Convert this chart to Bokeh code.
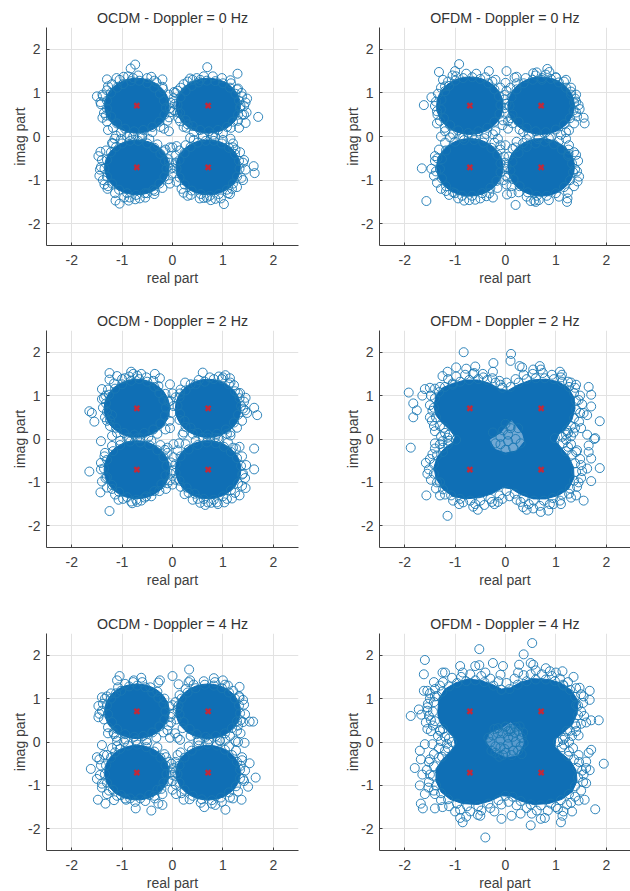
from bokeh.plotting import figure
from bokeh.layouts import column, row
from bokeh.embed import file_html
from bokeh.resources import INLINE
from bokeh.models import FixedTicker

TICKS = [-2, -1, 0, 1, 2]
TICK_LABELS = {-2: "-2", -1: "-1", 0: "0", 1: "1", 2: "2"}
CONST_X = [-0.707, 0.707, -0.707, 0.707]
CONST_Y = [0.707, 0.707, -0.707, -0.707]
TITLES = ["OCDM - Doppler = 0 Hz", "OFDM - Doppler = 0 Hz", "OCDM - Doppler = 2 Hz",
          "OFDM - Doppler = 2 Hz", "OCDM - Doppler = 4 Hz", "OFDM - Doppler = 4 Hz"]
# The middle of each cluster is solid ink: single symbols cannot be read there,
# so it is kept as the half-extent of the solid area, read per panel.
CORE_HALF = [(0.64, 0.63), (0.66, 0.66), (0.65, 0.67), None, (0.64, 0.63), None]
# In the two OFDM panels with Doppler the clusters merge: outline of the solid mass,
# and of the speckled middle.
MASS_P4 = [(-1.42,0.75),(-1.38,1.0),(-1.25,1.18),(-1.05,1.28),(-0.8,1.36),(-0.55,1.36),(-0.3,1.28),(-0.12,1.15),(0.05,1.12),(0.25,1.25),(0.5,1.36),(0.8,1.38),(1.05,1.32),(1.25,1.18),(1.36,0.95),(1.38,0.7),(1.32,0.45),(1.2,0.25),(1.05,0.1),(1.0,-0.05),(1.1,-0.2),(1.25,-0.4),(1.35,-0.65),(1.36,-0.9),(1.25,-1.15),(1.05,-1.3),(0.8,-1.38),(0.55,-1.38),(0.3,-1.28),(0.12,-1.15),(-0.05,-1.12),(-0.25,-1.25),(-0.5,-1.35),(-0.8,-1.38),(-1.05,-1.32),(-1.25,-1.15),(-1.38,-0.9),(-1.42,-0.65),(-1.35,-0.4),(-1.2,-0.2),(-1.05,-0.08),(-1.0,0.05),(-1.1,0.2),(-1.28,0.4),(-1.38,0.55)]
MASS_P6 = [(-1.34,0.75),(-1.32,1.0),(-1.2,1.22),(-1.0,1.36),(-0.75,1.45),(-0.5,1.42),(-0.25,1.32),(-0.08,1.22),(0.1,1.25),(0.3,1.38),(0.55,1.46),(0.85,1.44),(1.1,1.36),(1.3,1.2),(1.44,0.95),(1.42,0.65),(1.32,0.4),(1.15,0.22),(1.0,0.08),(0.98,-0.1),(1.1,-0.25),(1.28,-0.42),(1.4,-0.65),(1.42,-0.9),(1.32,-1.15),(1.12,-1.32),(0.85,-1.42),(0.55,-1.44),(0.3,-1.36),(0.1,-1.25),(-0.08,-1.24),(-0.3,-1.36),(-0.55,-1.44),(-0.85,-1.42),(-1.1,-1.32),(-1.28,-1.15),(-1.38,-0.9),(-1.38,-0.62),(-1.25,-0.4),(-1.1,-0.22),(-1.0,-0.08),(-1.02,0.1),(-1.15,0.25),(-1.28,0.42),(-1.34,0.6)]
HOLE_P4 = [(0.12,0.42),(0.32,0.12),(0.36,-0.05),(0.22,-0.25),(0.0,-0.3),(-0.2,-0.22),(-0.3,-0.02),(-0.1,0.12)]
HOLE_P6 = [(0.1,0.44),(0.3,0.24),(0.36,-0.02),(0.24,-0.3),(0.0,-0.34),(-0.24,-0.2),(-0.38,0.02),(-0.3,0.2),(-0.08,0.3)]
MASSES = [None, None, None, MASS_P4, None, MASS_P6]
HOLES = [None, None, None, (HOLE_P4, "#72a9d4"), None, (HOLE_P6, "#5a9bcd")]

# Symbols (real, imag): rim of the solid area and stray points.
P1 = [(-0.98,1.2),(-0.82,1.27),(-0.66,1.28),(-0.5,1.22),(-0.36,1.12),(-0.25,0.98),(-0.17,0.82),(-0.13,0.66),(-0.16,0.5),(-0.26,0.34),(-0.4,0.22),(-0.58,0.15),(-0.76,0.12),(-0.94,0.18),(-1.1,0.3),(-1.22,0.46),(-1.3,0.64),(-1.3,0.82),(-1.22,1.0),(-1.1,1.12),
(0.52,1.24),(0.68,1.28),(0.85,1.27),(1.0,1.22),(1.14,1.12),(1.25,0.98),(1.32,0.82),(1.34,0.66),(1.3,0.5),(1.2,0.34),(1.08,0.22),(0.9,0.15),(0.72,0.12),(0.55,0.15),(0.4,0.24),(0.26,0.38),(0.15,0.54),(0.1,0.72),(0.16,0.9),(0.26,1.04),(0.38,1.16),
(-1.0,-0.16),(-0.84,-0.1),(-0.68,-0.1),(-0.5,-0.16),(-0.36,-0.26),(-0.24,-0.4),(-0.15,-0.56),(-0.12,-0.74),(-0.16,-0.92),(-0.26,-1.08),(-0.38,-1.22),(-0.55,-1.3),(-0.72,-1.34),(-0.9,-1.3),(-1.06,-1.22),(-1.2,-1.08),(-1.3,-0.92),(-1.35,-0.74),(-1.3,-0.54),(-1.22,-0.36),(-1.12,-0.24),
(0.5,-0.14),(0.66,-0.1),(0.82,-0.1),(0.98,-0.16),(1.12,-0.26),(1.24,-0.4),(1.32,-0.56),(1.33,-0.74),(1.28,-0.92),(1.2,-1.08),(1.08,-1.22),(0.92,-1.32),(0.74,-1.36),(0.56,-1.32),(0.38,-1.24),(0.24,-1.1),(0.14,-0.94),(0.08,-0.74),(0.14,-0.54),(0.24,-0.38),(0.36,-0.24),
(-0.74,1.65),(-0.83,1.56),(-0.97,1.37),(-1.11,1.34),(-1.3,1.31),(-1.28,1.15),(-0.78,1.34),(-0.42,1.37),(-0.2,1.31),(-0.36,1.28),(-0.19,1.09),(-1.5,0.92),(-1.39,0.96),(-1.43,0.79),(-1.39,0.43),(-1.32,0.48),(-1.28,0.15),(-0.07,0.44),(-0.17,0.18),(-0.07,0.12),(0.03,1.02),(0.1,1.05),
(0.69,1.59),(1.29,1.44),(1.15,1.29),(0.35,1.33),(0.4,1.3),(0.55,1.3),(0.22,1.2),(1.7,0.45),(1.48,0.87),(1.45,0.78),(1.47,0.55),(1.42,0.5),(1.45,0.31),(1.32,0.2),(1.3,1.1),(1.37,1.0),(1.35,0.7),(0.05,0.75),(-0.05,0.65),(0.1,0.55),(0.15,0.35),(0.22,0.22),(0.3,0.28),
(-1.43,-0.35),(-1.45,-0.9),(-1.42,-0.7),(-1.47,-0.45),(-1.35,-1.1),(-1.29,-1.2),(-1.13,-1.47),(-1.05,-1.54),(-0.87,-1.47),(-0.85,-1.4),(-0.65,-1.42),(-0.5,-1.3),(-0.35,-1.25),(-1.2,-0.15),(-1.15,-0.05),(-1.12,0.02),(-0.6,-0.02),(-0.78,0.0),(-0.07,-0.6),(-0.05,-0.25),(-0.14,-0.3),(0.0,-0.85),(-0.05,-1.08),(0.06,-0.6),
(1.61,-0.68),(1.63,-0.84),(1.4,-0.6),(1.37,-0.95),(1.1,-1.3),(1.18,-1.2),(1.02,-1.55),(0.85,-1.43),(0.68,-1.4),(0.62,-1.41),(0.22,-1.29),(0.3,-1.36),(0.0,-0.25),(0.08,-0.22),(1.15,-0.05),(1.2,-0.25),(1.25,-0.3),(0.85,-0.02),(0.35,-0.03)]

B1 = [(-1.42,0.74),(-1.38,0.92),(-1.3,1.06),(-1.2,1.2),(-1.05,1.3),(-0.88,1.38),(-0.68,1.4),(-0.5,1.34),(-0.32,1.24),(-0.2,1.14),(-0.08,0.96),(-0.04,0.78),(-0.03,0.56),(-0.1,0.36),(-0.24,0.22),(-0.4,0.1),(-0.6,0.03),(-0.85,0.03),(-1.02,0.1),(-1.18,0.2),(-1.3,0.34),(-1.36,0.54),
(0.02,0.88),(0.06,1.0),(0.16,1.12),(0.3,1.26),(0.48,1.34),(0.62,1.38),(0.8,1.38),(0.98,1.34),(1.16,1.22),(1.28,1.08),(1.38,0.92),(1.42,0.7),(1.38,0.5),(1.3,0.36),(1.16,0.2),(1.0,0.08),(0.8,0.04),(0.6,0.03),(0.42,0.1),(0.28,0.2),(0.12,0.42),(0.03,0.6),
(-1.02,-0.06),(-0.9,0.0),(-1.18,-0.16),(-1.32,-0.32),(-1.4,-0.54),(-1.44,-0.76),(-1.38,-1.0),(-1.28,-1.14),(-1.14,-1.3),(-0.96,-1.4),(-0.74,-1.44),(-0.54,-1.4),(-0.36,-1.32),(-0.2,-1.18),(-0.08,-0.98),(-0.04,-0.74),(-0.08,-0.52),(-0.18,-0.34),(-0.3,-0.18),(-0.46,-0.06),(-0.65,0.0),
(0.26,-0.2),(0.42,-0.08),(0.6,-0.02),(0.8,0.0),(1.0,-0.08),(1.2,-0.16),(1.34,-0.36),(1.42,-0.54),(1.45,-0.76),(1.4,-1.0),(1.28,-1.16),(1.14,-1.32),(0.96,-1.42),(0.76,-1.46),(0.54,-1.42),(0.36,-1.34),(0.18,-1.2),(0.08,-1.04),(0.0,-0.72),(0.06,-0.44),(0.14,-0.32)]

P2 = [(-1.0,1.28),(-0.84,1.34),(-0.66,1.36),(-0.5,1.32),(-0.34,1.22),(-0.22,1.08),(-0.13,0.92),(-0.1,0.72),(-0.12,0.52),(-0.22,0.34),(-0.36,0.2),(-0.54,0.12),(-0.74,0.08),(-0.94,0.14),(-1.1,0.26),(-1.22,0.42),(-1.28,0.62),(-1.27,0.84),(-1.2,1.04),(-1.12,1.16),
(0.54,1.3),(0.72,1.34),(0.9,1.32),(1.06,1.24),(1.2,1.12),(1.3,0.96),(1.36,0.78),(1.35,0.6),(1.28,0.42),(1.16,0.28),(1.0,0.16),(0.8,0.1),(0.6,0.12),(0.42,0.2),(0.26,0.34),(0.14,0.5),(0.08,0.7),(0.12,0.9),(0.22,1.08),(0.36,1.22),
(-1.0,-0.12),(-0.82,-0.08),(-0.62,-0.08),(-0.44,-0.14),(-0.28,-0.26),(-0.16,-0.42),(-0.1,-0.62),(-0.1,-0.82),(-0.18,-1.02),(-0.3,-1.18),(-0.46,-1.3),(-0.66,-1.36),(-0.86,-1.36),(-1.04,-1.28),(-1.18,-1.14),(-1.26,-0.96),(-1.3,-0.74),(-1.26,-0.52),(-1.18,-0.32),
(0.6,-0.16),(0.78,-0.12),(0.96,-0.18),(1.12,-0.3),(1.24,-0.44),(1.32,-0.62),(1.34,-0.82),(1.28,-1.0),(1.16,-1.16),(1.0,-1.3),(0.82,-1.36),(0.62,-1.36),(0.44,-1.28),(0.28,-1.14),(0.16,-0.98),(0.1,-0.78),(0.14,-0.58),(0.26,-0.38),(0.42,-0.24),
(-0.92,1.66),(-1.32,1.48),(-1.0,1.5),(-1.05,1.4),(-0.33,1.5),(0.02,1.5),(-1.24,1.3),(-1.2,1.15),(-1.47,0.9),(-1.62,0.72),(-1.4,0.7),(-1.35,0.5),(-1.36,0.3),(-1.28,0.0),(-1.2,0.12),(-1.1,-0.02),
(-1.66,-0.73),(-1.47,-0.74),(-1.38,-0.8),(-1.35,-0.5),(-1.4,-0.45),(-1.57,-1.48),(-1.18,-1.25),(-1.0,-1.3),(-0.82,-1.47),(-0.6,-1.45),(-0.38,-1.37),(-0.25,-1.4),(0.03,-1.33),(0.12,-1.3),(0.2,-1.57),(0.5,-1.48),(0.6,-1.5),(0.57,-1.47),(1.23,-1.42),(1.22,-1.5),
(1.43,-1.03),(1.42,-0.8),(1.38,-0.75),(1.4,-0.42),(1.25,-0.4),(1.25,-0.3),(1.2,-0.05),(1.2,0.1),(1.55,0.43),(1.57,0.3),(1.47,0.63),(1.4,0.8),(1.38,0.87),(1.4,0.55),(1.3,1.03),(1.2,1.3),(0.83,1.55),(0.87,1.48),(0.62,1.47),(0.55,1.45),(0.72,1.3),(1.0,1.35),(0.22,1.37),(0.18,1.35),(0.0,1.23),(-0.2,1.3),
(-0.02,0.65),(0.05,0.35),(-0.05,0.37),(0.05,0.18),(0.35,0.1),(-0.1,-0.2),(0.0,-0.2),(0.2,-0.25),(0.35,-0.15),(-0.25,0.05),(-0.15,-0.05),(-0.02,0.85),(0.02,1.05),(-0.02,-0.6),(0.0,-0.9),(0.02,-1.1)]

B2 = [(-1.38,0.8),(-1.34,0.98),(-1.28,1.12),(-1.14,1.26),(-0.98,1.38),(-0.78,1.44),(-0.58,1.44),(-0.4,1.36),(-0.26,1.26),(-0.1,1.12),(-0.02,0.95),(0.02,0.75),(0.0,0.52),(-0.06,0.26),(-0.2,0.12),(-0.38,0.06),(-0.58,0.0),(-0.84,-0.02),(-1.04,0.05),(-1.2,0.2),(-1.3,0.36),(-1.36,0.58),
(0.1,1.12),(0.22,1.22),(0.4,1.34),(0.6,1.4),(0.8,1.42),(1.0,1.36),(1.16,1.26),(1.3,1.12),(1.4,0.96),(1.45,0.72),(1.42,0.46),(1.36,0.3),(1.26,0.14),(1.1,0.04),(0.9,-0.02),(0.66,-0.02),(0.46,0.04),(0.28,0.16),(0.14,0.3),(0.1,0.42),
(-1.2,-0.14),(-1.32,-0.3),(-1.4,-0.56),(-1.42,-0.9),(-1.36,-1.06),(-1.28,-1.2),(-1.12,-1.34),(-0.94,-1.42),(-0.72,-1.46),(-0.5,-1.42),(-0.32,-1.3),(-0.16,-1.18),(-0.04,-1.0),(-0.0,-0.74),(-0.03,-0.46),(-0.1,-0.3),(-0.22,-0.14),(-0.42,-0.04),(-0.66,0.02),(-0.9,0.0),
(0.22,-0.12),(0.42,-0.06),(0.64,-0.06),(0.86,-0.04),(1.06,-0.1),(1.26,-0.2),(1.36,-0.36),(1.44,-0.56),(1.46,-0.92),(1.36,-1.14),(1.24,-1.28),(1.06,-1.38),(0.86,-1.46),(0.66,-1.46),(0.42,-1.38),(0.26,-1.28),(0.12,-1.14),(0.04,-0.94),(0.02,-0.7),(0.06,-0.46),(0.14,-0.28)]

P3 = [(-1.0,1.26),(-0.82,1.34),(-0.66,1.38),(-0.5,1.32),(-0.36,1.2),(-0.26,1.06),(-0.18,0.9),(-0.13,0.72),(-0.15,0.54),(-0.24,0.36),(-0.38,0.22),(-0.56,0.14),(-0.76,0.1),(-0.96,0.14),(-1.12,0.26),(-1.24,0.44),(-1.3,0.62),(-1.32,0.82),(-1.26,1.02),(-1.14,1.16),
(0.46,1.26),(0.64,1.32),(0.82,1.38),(0.98,1.38),(1.12,1.26),(1.24,1.1),(1.33,0.94),(1.36,0.76),(1.3,0.56),(1.22,0.38),(1.06,0.22),(0.88,0.12),(0.7,0.1),(0.5,0.14),(0.36,0.26),(0.24,0.42),(0.15,0.58),(0.1,0.76),(0.14,0.96),(0.26,1.12),
(-1.04,-0.14),(-0.84,-0.06),(-0.64,-0.08),(-0.46,-0.14),(-0.3,-0.26),(-0.18,-0.42),(-0.12,-0.62),(-0.14,-0.84),(-0.22,-1.04),(-0.36,-1.2),(-0.52,-1.32),(-0.72,-1.4),(-0.9,-1.34),(-1.06,-1.22),(-1.2,-1.06),(-1.3,-0.88),(-1.36,-0.68),(-1.3,-0.48),(-1.18,-0.28),
(0.5,-0.14),(0.68,-0.08),(0.86,-0.1),(1.02,-0.18),(1.16,-0.3),(1.28,-0.44),(1.36,-0.62),(1.38,-0.82),(1.3,-1.02),(1.16,-1.18),(1.0,-1.32),(0.82,-1.4),(0.62,-1.38),(0.44,-1.26),(0.28,-1.12),(0.14,-0.96),(0.06,-0.78),(0.06,-0.58),(0.16,-0.4),(0.32,-0.24),
(-1.25,1.52),(-0.82,1.55),(-0.78,1.5),(-0.62,1.5),(-0.35,1.5),(-1.25,1.37),(-1.1,1.45),(-0.95,1.4),(-0.25,1.4),(-0.05,1.26),(-1.4,1.15),(-1.4,0.92),(-1.33,1.0),(-1.65,0.64),(-1.6,0.6),(-1.55,0.4),(-1.3,0.42),(-1.2,0.55),(-1.42,-0.05),(-1.2,0.07),(-1.35,-0.4),(-1.42,-0.55),(-1.65,-0.75),(-1.43,-1.23),(-1.25,-1.66),(-1.33,-0.9),(-1.2,-1.15),(-1.07,-1.4),(-0.8,-1.48),(-0.7,-1.45),(-0.55,-1.35),
(-0.1,-0.2),(-0.15,-0.25),(-0.13,-1.15),(-0.05,-0.95),(0.0,-1.05),(-0.05,0.88),(0.0,1.05),(0.15,1.05),(0.25,1.3),(0.6,1.53),(1.05,1.47),(1.0,1.42),(1.15,1.3),(1.3,1.05),(1.45,0.95),(1.62,0.72),(1.48,0.6),(1.68,0.55),(1.4,0.7),(1.15,0.15),(1.15,0.08),(0.9,0.02),(0.2,0.1),(0.22,0.15),(-0.05,0.25),(0.02,-0.12),(0.13,-0.1),
(1.62,-0.22),(1.33,-0.18),(1.2,-0.2),(1.62,-0.7),(1.45,-1.13),(1.4,-0.8),(1.33,-1.3),(1.18,-1.37),(1.03,-1.46),(0.9,-1.5),(0.77,-1.47),(0.55,-1.47),(0.4,-1.4),(0.24,-1.27),(0.65,-1.52)]

B3 = [(-1.38,0.72),(-1.36,0.94),(-1.28,1.14),(-1.16,1.28),(-1.0,1.38),(-0.86,1.44),(-0.7,1.46),(-0.52,1.42),(-0.38,1.34),(-0.28,1.22),(-0.14,1.04),(-0.08,0.86),(-0.02,0.6),(-0.06,0.42),(-0.14,0.22),(-0.3,0.12),(-0.48,0.04),(-0.7,0.02),(-0.9,0.03),(-1.1,0.14),(-1.24,0.3),(-1.34,0.5),
(0.02,0.76),(0.06,0.96),(0.16,1.14),(0.36,1.26),(0.52,1.36),(0.74,1.42),(0.92,1.44),(1.14,1.4),(1.22,1.24),(1.34,1.06),(1.42,0.86),(1.44,0.66),(1.38,0.42),(1.28,0.26),(1.08,0.12),(0.84,0.03),(0.6,0.03),(0.4,0.12),(0.26,0.28),(0.14,0.44),
(-1.2,-0.16),(-1.34,-0.32),(-1.42,-0.7),(-1.4,-0.98),(-1.3,-1.12),(-1.14,-1.28),(-0.98,-1.38),(-0.82,-1.44),(-0.62,-1.42),(-0.42,-1.32),(-0.26,-1.2),(-0.1,-1.02),(-0.04,-0.8),(-0.03,-0.54),(-0.1,-0.32),(-0.24,-0.14),(-0.42,-0.04),(-0.64,0.02),(-0.86,0.03),(-1.04,-0.04),
(0.0,-0.72),(0.02,-0.42),(0.1,-0.26),(0.26,-0.12),(0.46,-0.04),(0.7,0.02),(0.92,0.0),(1.1,-0.08),(1.26,-0.22),(1.38,-0.4),(1.46,-0.6),(1.44,-0.9),(1.38,-1.08),(1.24,-1.24),(1.08,-1.38),(0.88,-1.46),(0.7,-1.46),(0.5,-1.38),(0.32,-1.24),(0.16,-1.1),(0.06,-0.94)]

P4 = [(-1.2,1.2),(-1.05,1.28),(-0.9,1.32),(-0.72,1.36),(-0.54,1.38),(-0.36,1.36),(-0.2,1.3),(-0.06,1.18),(0.1,1.2),(0.26,1.3),(0.42,1.38),(0.6,1.4),(0.78,1.4),(0.96,1.38),(1.12,1.32),(1.26,1.2),(1.36,1.06),(1.4,0.88),(1.4,0.68),(1.36,0.48),(1.3,0.3),(1.24,0.14),(1.2,-0.02),
(1.24,-0.18),(1.32,-0.36),(1.38,-0.56),(1.4,-0.76),(1.36,-0.96),(1.28,-1.14),(1.12,-1.28),(0.94,-1.36),(0.76,-1.42),(0.56,-1.42),(0.36,-1.36),(0.18,-1.26),(0.02,-1.2),(-0.12,-1.3),(-0.3,-1.38),(-0.5,-1.42),(-0.7,-1.42),(-0.9,-1.38),(-1.08,-1.3),(-1.24,-1.16),(-1.36,-1.0),(-1.42,-0.8),(-1.42,-0.58),(-1.36,-0.38),(-1.24,-0.2),(-1.12,-0.04),(-1.2,0.14),(-1.3,0.3),(-1.38,0.5),(-1.42,0.72),(-1.4,0.94),(-1.32,1.08),
(-0.83,2.0),(0.11,1.96),(0.1,1.8),(-0.24,1.75),(-1.92,1.07),(-1.83,0.82),(-1.76,0.66),(-1.83,0.5),(-1.88,-0.2),(-1.65,1.0),(-1.6,1.15),(-1.5,1.18),(-1.5,0.5),(-1.42,0.3),(-1.45,0.65),(-1.25,1.45),(-1.15,1.55),(-0.98,1.65),(-0.78,1.62),(-0.6,1.67),(-0.65,1.5),(-0.45,1.5),(-0.25,1.55),(-0.1,1.25),(0.28,1.68),(0.33,1.65),(0.55,1.6),(0.68,1.68),(0.7,1.6),(1.08,1.55),(1.12,1.48),(1.4,1.25),
(1.65,1.2),(1.7,1.02),(1.7,0.75),(1.62,0.55),(1.87,0.41),(1.55,0.6),(1.5,0.25),(1.62,0.1),(1.76,0.0),(1.78,0.02),(1.65,-0.15),(1.65,-0.3),(1.7,-0.45),(1.87,-0.67),(1.62,-0.68),(1.7,-0.97),(1.45,-1.0),(1.55,-1.42),(1.4,-1.3),(1.3,-1.35),(1.1,-1.5),(0.95,-1.5),(0.85,-1.65),(0.7,-1.68),(0.55,-1.6),(0.42,-1.63),(0.35,-1.57),(0.3,-1.45),
(-0.15,-1.45),(-0.27,-1.45),(-0.55,-1.63),(-0.6,-1.5),(-0.92,-1.5),(-1.15,-1.77),(-1.3,-1.3),(-1.57,-1.3),(-1.3,-1.0),(-1.55,-0.8),(-1.58,-0.55),(-1.45,-0.35),(-1.4,-0.1),(-1.25,-0.05),(-1.15,0.03),(1.2,0.1),(1.35,0.15),(1.4,-0.3),(1.5,-0.6),(1.45,0.9),(1.3,1.3),(-1.05,1.25),
(0.05,0.1),(0.1,0.25),(-0.1,0.05),(0.2,0.0),(-0.1,-0.12),(0.25,0.25),(-0.2,-0.1),(0.15,-0.2),(0.3,-0.1),(0.0,-0.25),(-0.25,0.15),(0.1,0.3),(0.05,-0.05),(0.0,0.35),(-0.05,0.2)]

B4 = [(-1.3,1.2),(-1.14,1.38),(-0.98,1.44),(-0.8,1.48),(-0.62,1.52),(-0.44,1.42),(-0.26,1.4),(-0.12,1.34),(0.02,1.3),(0.2,1.38),(0.36,1.48),(0.54,1.5),(0.74,1.52),(0.92,1.48),(1.1,1.42),(1.24,1.32),(1.38,1.18),(1.48,1.0),(1.52,0.8),(1.48,0.6),(1.46,0.4),(1.38,0.26),(1.3,0.06),
(1.3,-0.12),(1.42,-0.26),(1.48,-0.46),(1.52,-0.74),(1.5,-0.9),(1.42,-1.1),(1.26,-1.26),(1.08,-1.42),(0.88,-1.5),(0.68,-1.54),(0.46,-1.5),(0.22,-1.4),(0.08,-1.32),(-0.06,-1.38),(-0.22,-1.5),(-0.42,-1.52),(-0.64,-1.56),(-0.84,-1.46),(-1.04,-1.42),(-1.2,-1.28),(-1.38,-1.14),(-1.48,-0.94),(-1.52,-0.7),(-1.5,-0.46),(-1.4,-0.22),(-1.3,-0.12),(-1.28,0.06),(-1.4,0.18),(-1.46,0.42),(-1.5,0.78),(-1.48,1.0),(-1.4,1.16),
(1.12,0.05),(1.14,-0.1),(-1.12,0.1),(-1.14,-0.12),(1.22,0.2),(1.2,-0.28),(-1.22,0.26),(-1.24,-0.3),(0.98,0.02),(-0.98,-0.02)]

P5 = [(-1.02,1.18),(-0.86,1.28),(-0.7,1.3),(-0.54,1.26),(-0.4,1.14),(-0.28,1.02),(-0.18,0.88),(-0.14,0.7),(-0.16,0.52),(-0.26,0.36),(-0.4,0.22),(-0.58,0.14),(-0.76,0.12),(-0.94,0.18),(-1.1,0.3),(-1.2,0.46),(-1.28,0.64),(-1.3,0.84),(-1.22,1.0),(-1.12,1.12),
(0.46,1.24),(0.64,1.32),(0.82,1.3),(0.98,1.24),(1.12,1.14),(1.24,1.0),(1.32,0.84),(1.34,0.66),(1.28,0.48),(1.18,0.32),(1.04,0.2),(0.86,0.14),(0.66,0.12),(0.48,0.18),(0.34,0.3),(0.22,0.46),(0.14,0.64),(0.12,0.84),(0.18,1.0),(0.3,1.14),
(-1.04,-0.16),(-0.88,-0.08),(-0.7,-0.06),(-0.52,-0.12),(-0.36,-0.22),(-0.24,-0.36),(-0.14,-0.54),(-0.12,-0.74),(-0.18,-0.94),(-0.3,-1.1),(-0.46,-1.22),(-0.64,-1.3),(-0.84,-1.3),(-1.02,-1.22),(-1.18,-1.1),(-1.3,-0.94),(-1.34,-0.74),(-1.32,-0.54),(-1.22,-0.36),(-1.14,-0.24),
(0.52,-0.08),(0.7,-0.04),(0.88,-0.08),(1.04,-0.18),(1.18,-0.3),(1.28,-0.46),(1.34,-0.64),(1.34,-0.84),(1.26,-1.02),(1.12,-1.16),(0.96,-1.28),(0.78,-1.34),(0.58,-1.32),(0.4,-1.24),(0.24,-1.1),(0.14,-0.94),(0.1,-0.74),(0.14,-0.54),(0.24,-0.36),(0.38,-0.2),
(0.33,1.67),(-1.05,1.52),(-1.1,1.42),(-0.77,1.42),(-0.62,1.48),(-0.25,1.42),(-0.28,1.37),(0.0,1.52),(0.12,1.33),(0.35,1.42),(0.32,1.38),(0.82,1.47),(1.0,1.42),(1.33,1.27),(1.1,1.3),(1.4,0.97),(1.33,1.03),(-1.4,1.03),(-1.47,0.83),(-1.45,0.65),(-1.47,0.57),(-1.3,1.05),(1.53,0.47),(1.6,0.47),(1.3,0.38),(1.35,0.5),(1.35,0.2),
(-1.28,0.2),(-1.17,0.22),(-1.12,0.12),(-1.4,-0.07),(-1.1,0.02),(-1.1,-0.1),(-1.5,-0.35),(-1.45,-0.4),(-1.3,-0.3),(-1.62,-0.62),(-1.5,-0.85),(-1.4,-1.05),(-1.3,-1.2),(-1.48,-1.33),(-1.33,-1.42),(-1.16,-1.34),(-0.92,-1.33),(-0.73,-1.53),(-0.42,-1.58),(-0.28,-1.42),(-0.2,-1.45),(-0.35,-1.3),(-0.2,-1.2),
(0.0,-1.1),(0.07,-1.2),(0.22,-1.33),(0.63,-1.5),(0.85,-1.45),(1.05,-1.56),(1.2,-1.3),(1.37,-1.33),(1.5,-1.03),(1.4,-0.85),(1.65,-0.82),(1.53,-0.49),(1.35,-0.55),(1.38,-0.35),(1.43,-0.02),(1.3,0.0),(1.25,0.02),(1.05,0.05),
(0.1,0.1),(0.05,0.2),(-0.05,0.1),(0.15,0.05),(-0.13,-0.35),(-0.1,0.27),(0.1,0.75),(0.0,0.65),(-0.03,0.45),(0.1,-0.3),(0.05,-0.7),(0.0,-0.9),(0.02,-0.6),(0.0,0.85),(-0.02,-0.5)]

B5 = [(-1.38,0.88),(-1.34,1.0),(-1.22,1.12),(-1.08,1.26),(-0.94,1.34),(-0.78,1.38),(-0.6,1.38),(-0.44,1.26),(-0.3,1.16),(-0.16,1.0),(-0.06,0.82),(-0.04,0.58),(-0.08,0.38),(-0.18,0.22),(-0.32,0.1),(-0.52,0.04),(-0.72,0.02),(-0.94,0.06),(-1.16,0.18),(-1.28,0.34),(-1.36,0.52),(-1.4,0.72),
(0.06,0.92),(0.14,1.08),(0.26,1.22),(0.42,1.32),(0.62,1.4),(0.84,1.38),(1.04,1.32),(1.2,1.18),(1.32,1.06),(1.42,0.86),(1.44,0.64),(1.4,0.46),(1.28,0.26),(1.14,0.14),(0.94,0.04),(0.72,0.02),(0.52,0.04),(0.36,0.14),(0.2,0.32),(0.08,0.52),
(-1.2,-0.14),(-1.36,-0.3),(-1.42,-0.54),(-1.44,-0.76),(-1.4,-0.96),(-1.26,-1.12),(-1.1,-1.24),(-0.94,-1.3),(-0.74,-1.38),(-0.54,-1.36),(-0.36,-1.24),(-0.22,-1.08),(-0.08,-0.9),(-0.03,-0.7),(-0.06,-0.46),(-0.16,-0.28),(-0.3,-0.12),(-0.5,-0.02),(-0.72,0.04),(-0.96,0.0),
(0.0,-0.76),(0.06,-0.46),(0.16,-0.24),(0.32,-0.1),(0.5,0.0),(0.72,0.06),(0.94,0.02),(1.12,-0.1),(1.26,-0.2),(1.38,-0.42),(1.44,-0.66),(1.42,-0.9),(1.3,-1.14),(1.14,-1.28),(0.98,-1.38),(0.78,-1.42),(0.56,-1.4),(0.34,-1.32),(0.18,-1.18),(0.06,-0.98)]

P6 = [(-1.26,1.16),(-1.12,1.28),(-0.96,1.36),(-0.78,1.4),(-0.6,1.42),(-0.42,1.38),(-0.24,1.3),(-0.08,1.2),(0.08,1.22),(0.24,1.32),(0.42,1.4),(0.6,1.44),(0.8,1.44),(0.98,1.4),(1.14,1.32),(1.28,1.2),(1.38,1.04),(1.44,0.84),(1.44,0.62),(1.38,0.42),(1.28,0.26),(1.18,0.1),(1.16,-0.06),
(1.26,-0.22),(1.36,-0.4),(1.42,-0.6),(1.44,-0.82),(1.38,-1.02),(1.26,-1.2),(1.1,-1.34),(0.9,-1.42),(0.7,-1.46),(0.5,-1.44),(0.3,-1.36),(0.14,-1.26),(0.0,-1.24),(-0.14,-1.34),(-0.34,-1.42),(-0.54,-1.48),(-0.76,-1.48),(-0.96,-1.42),(-1.14,-1.32),(-1.28,-1.18),(-1.38,-1.0),(-1.44,-0.78),(-1.42,-0.56),(-1.32,-0.36),(-1.2,-0.2),(-1.16,-0.04),(-1.2,0.12),(-1.3,0.28),(-1.4,0.48),(-1.44,0.7),(-1.42,0.92),(-1.36,1.06),
(0.53,2.28),(-0.52,2.14),(0.36,2.02),(-1.6,1.89),(-0.52,1.77),(-0.6,1.75),(-0.25,1.82),(-0.05,1.75),(0.27,1.78),(0.5,1.82),(0.55,1.78),(1.13,1.63),(-0.9,1.75),(-0.85,1.6),(-0.4,1.6),(-1.62,1.56),(-1.25,1.6),(-1.2,1.6),(-0.1,1.55),(0.25,1.6),(0.6,1.65),(0.8,1.7),(0.88,1.63),(1.35,1.5),(-1.42,1.38),(-1.62,1.18),(-1.55,1.18),(-1.4,1.05),(-1.55,0.8),(-1.55,0.72),(-1.72,0.75),(-1.88,0.6),(-1.67,0.63),(-1.58,0.45),(-1.48,0.5),(-1.48,0.25),(-1.3,0.25),
(-1.6,-0.05),(-1.45,-0.05),(-1.7,-0.2),(-1.68,-0.4),(-1.5,-0.4),(-1.8,-0.6),(-1.65,-0.75),(-1.7,-1.0),(-1.53,-1.05),(-1.68,-1.42),(-1.64,-1.53),(-1.4,-1.2),(-1.4,-1.53),(-1.25,-1.5),(-1.0,-1.6),(-0.9,-1.75),(-0.85,-1.85),(-0.78,-1.72),(-0.55,-1.68),(-0.5,-1.7),(-0.22,-1.6),(-0.08,-1.77),(-0.4,-2.2),(0.12,-1.7),(0.3,-1.65),(0.5,-1.92),(0.52,-1.65),(0.7,-1.77),(0.78,-1.75),(1.1,-1.85),(1.13,-1.7),(1.15,-1.6),(1.0,-1.5),(1.32,-1.6),(1.45,-1.35),(1.57,-1.33),(1.78,-1.55),
(1.6,-0.95),(1.6,-0.6),(1.67,-0.65),(1.6,-0.45),(1.95,-0.5),(1.65,-0.25),(1.7,-0.18),(1.45,-0.3),(1.45,0.15),(1.4,0.25),(1.6,0.45),(1.7,0.5),(1.85,0.5),(1.5,0.7),(1.4,0.85),(1.67,0.97),(1.67,1.18),(1.47,1.25),(1.15,1.3),(1.0,1.6),(-1.3,1.3),(-1.5,1.0),(1.55,1.05),(-1.6,-1.2),(1.3,-1.4),(-1.5,-0.75),(1.55,-0.75),(-1.55,0.3),
(0.05,0.1),(0.1,0.25),(-0.1,0.05),(0.2,0.0),(-0.1,-0.12),(0.25,0.25),(-0.2,-0.1),(0.15,-0.2),(0.3,-0.1),(0.0,-0.25),(-0.25,0.15),(0.1,0.3),(0.05,-0.05),(0.0,0.35),(-0.05,0.2),(0.15,0.12),(-0.15,0.2),(0.25,-0.2),(-0.05,-0.3),(0.32,0.1),(-0.3,0.0),(0.2,0.35),(-0.2,-0.25)]

B6 = [(-1.4,1.22),(-1.24,1.38),(-1.06,1.48),(-0.88,1.5),(-0.7,1.56),(-0.48,1.52),(-0.3,1.46),(-0.14,1.4),(0.02,1.36),(0.18,1.46),(0.36,1.54),(0.5,1.56),(0.72,1.56),(0.92,1.52),(1.08,1.46),(1.24,1.38),(1.4,1.24),(1.5,1.1),(1.54,0.9),(1.56,0.6),(1.5,0.42),(1.4,0.36),(1.32,0.14),(1.26,0.0),
(1.34,-0.14),(1.46,-0.46),(1.52,-0.66),(1.54,-0.92),(1.5,-1.12),(1.38,-1.26),(1.22,-1.44),(1.04,-1.54),(0.84,-1.58),(0.62,-1.58),(0.42,-1.52),(0.22,-1.46),(0.06,-1.38),(-0.08,-1.44),(-0.3,-1.52),(-0.48,-1.58),(-0.7,-1.6),(-0.9,-1.56),(-1.12,-1.48),(-1.28,-1.34),(-1.42,-1.12),(-1.52,-0.92),(-1.56,-0.64),(-1.52,-0.46),(-1.42,-0.28),(-1.32,-0.14),(-1.28,0.02),(-1.34,0.14),(-1.44,0.38),(-1.52,0.6),(-1.54,0.88),(-1.5,1.12),
(0.0,0.36),(0.05,0.25),(-0.15,0.32),(0.28,0.36),(0.35,0.22),(0.36,-0.02),(0.32,-0.28),(0.12,-0.3),(-0.12,-0.34),(-0.28,-0.2),(-0.34,0.1),(-0.22,0.3),(0.18,0.22),(-0.02,-0.16),
(1.14,0.05),(1.12,-0.12),(-1.12,0.08),(-1.14,-0.14),(1.22,0.26),(1.24,-0.32),(-1.24,0.3),(-1.26,-0.34),(1.04,0.0),(-1.06,0.0)]

PANELS = [P1, P2, P3, P4, P5, P6]
BANDS = [B1, B2, B3, B4, B5, B6]

BLUE = "#0f6fb5"
INK = "#404040"
FONT = "Liberation Sans"

def panel(i, frame_h, top, bottom, left_col):
    pts = PANELS[i] + BANDS[i]
    x_end = 2.5 if left_col else 2.48
    p = figure(frame_width=252 if left_col else 251, frame_height=frame_h,
               x_range=(-2.5, x_end), y_range=(-2.5, 2.5),
               min_border_left=46 if left_col else 64, min_border_right=17 if left_col else 0,
               min_border_top=top, min_border_bottom=bottom,
               output_backend="svg", toolbar_location=None,
               title=TITLES[i], x_axis_label="real part", y_axis_label="imag part")
    p.outline_line_color = None
    p.background_fill_color = "white"
    p.title.align = "center"
    p.title.text_font = FONT
    p.title.text_font_size = "14.2px"
    p.title.text_font_style = "normal"
    p.title.text_color = "#333333"
    p.title.offset = 0
    p.title.standoff = 3
    for ax in (p.xaxis[0], p.yaxis[0]):
        ax.ticker = FixedTicker(ticks=TICKS)
        ax.major_label_overrides = TICK_LABELS
        ax.minor_tick_line_color = None
        ax.major_tick_in = 3
        ax.major_tick_out = 0
        ax.major_tick_line_color = INK
        ax.axis_line_color = INK
        ax.major_label_text_font = FONT
        ax.major_label_text_font_size = "14px"
        ax.major_label_text_color = INK
        ax.axis_label_text_font = FONT
        ax.axis_label_text_font_size = "14px"
        ax.axis_label_text_font_style = "normal"
        ax.axis_label_text_color = INK
    p.xaxis[0].major_label_standoff = 9
    p.xaxis[0].axis_label_standoff = 2
    p.yaxis[0].major_label_standoff = 6
    p.yaxis[0].axis_label_standoff = -3
    p.xgrid.grid_line_color = "#e2e2e2"
    p.ygrid.grid_line_color = "#e2e2e2"
    if CORE_HALF[i]:
        hx, hy = CORE_HALF[i]
        p.ellipse(CONST_X, CONST_Y, width=2 * hx, height=2 * hy, fill_color=BLUE, line_color=BLUE)
    if MASSES[i]:
        p.patch([a for a, _ in MASSES[i]], [b for _, b in MASSES[i]], fill_color=BLUE, line_color=BLUE)
        hole, tint = HOLES[i]
        p.patch([a for a, _ in hole], [b for _, b in hole], fill_color=tint, line_color=tint)
    p.scatter([a for a, _ in pts], [b for _, b in pts], marker="circle", size=9,
              fill_color=None, line_color="#1b78b3", line_width=0.9)
    p.scatter(CONST_X, CONST_Y, marker="x", size=7, line_color="#bf2a3c", line_width=2.5)
    return p

rows = []
for r, (fh, top, bottom) in enumerate([(218, 27, 55), (217, 30, 56), (217, 30, 41)]):
    rows.append(row(panel(2 * r, fh, top, bottom, True), panel(2 * r + 1, fh, top, bottom, False), spacing=0))
page = column(*rows, spacing=0, styles={"position": "absolute", "left": "0", "top": "0"})

open("out.html", "w").write(file_html(page, INLINE))
